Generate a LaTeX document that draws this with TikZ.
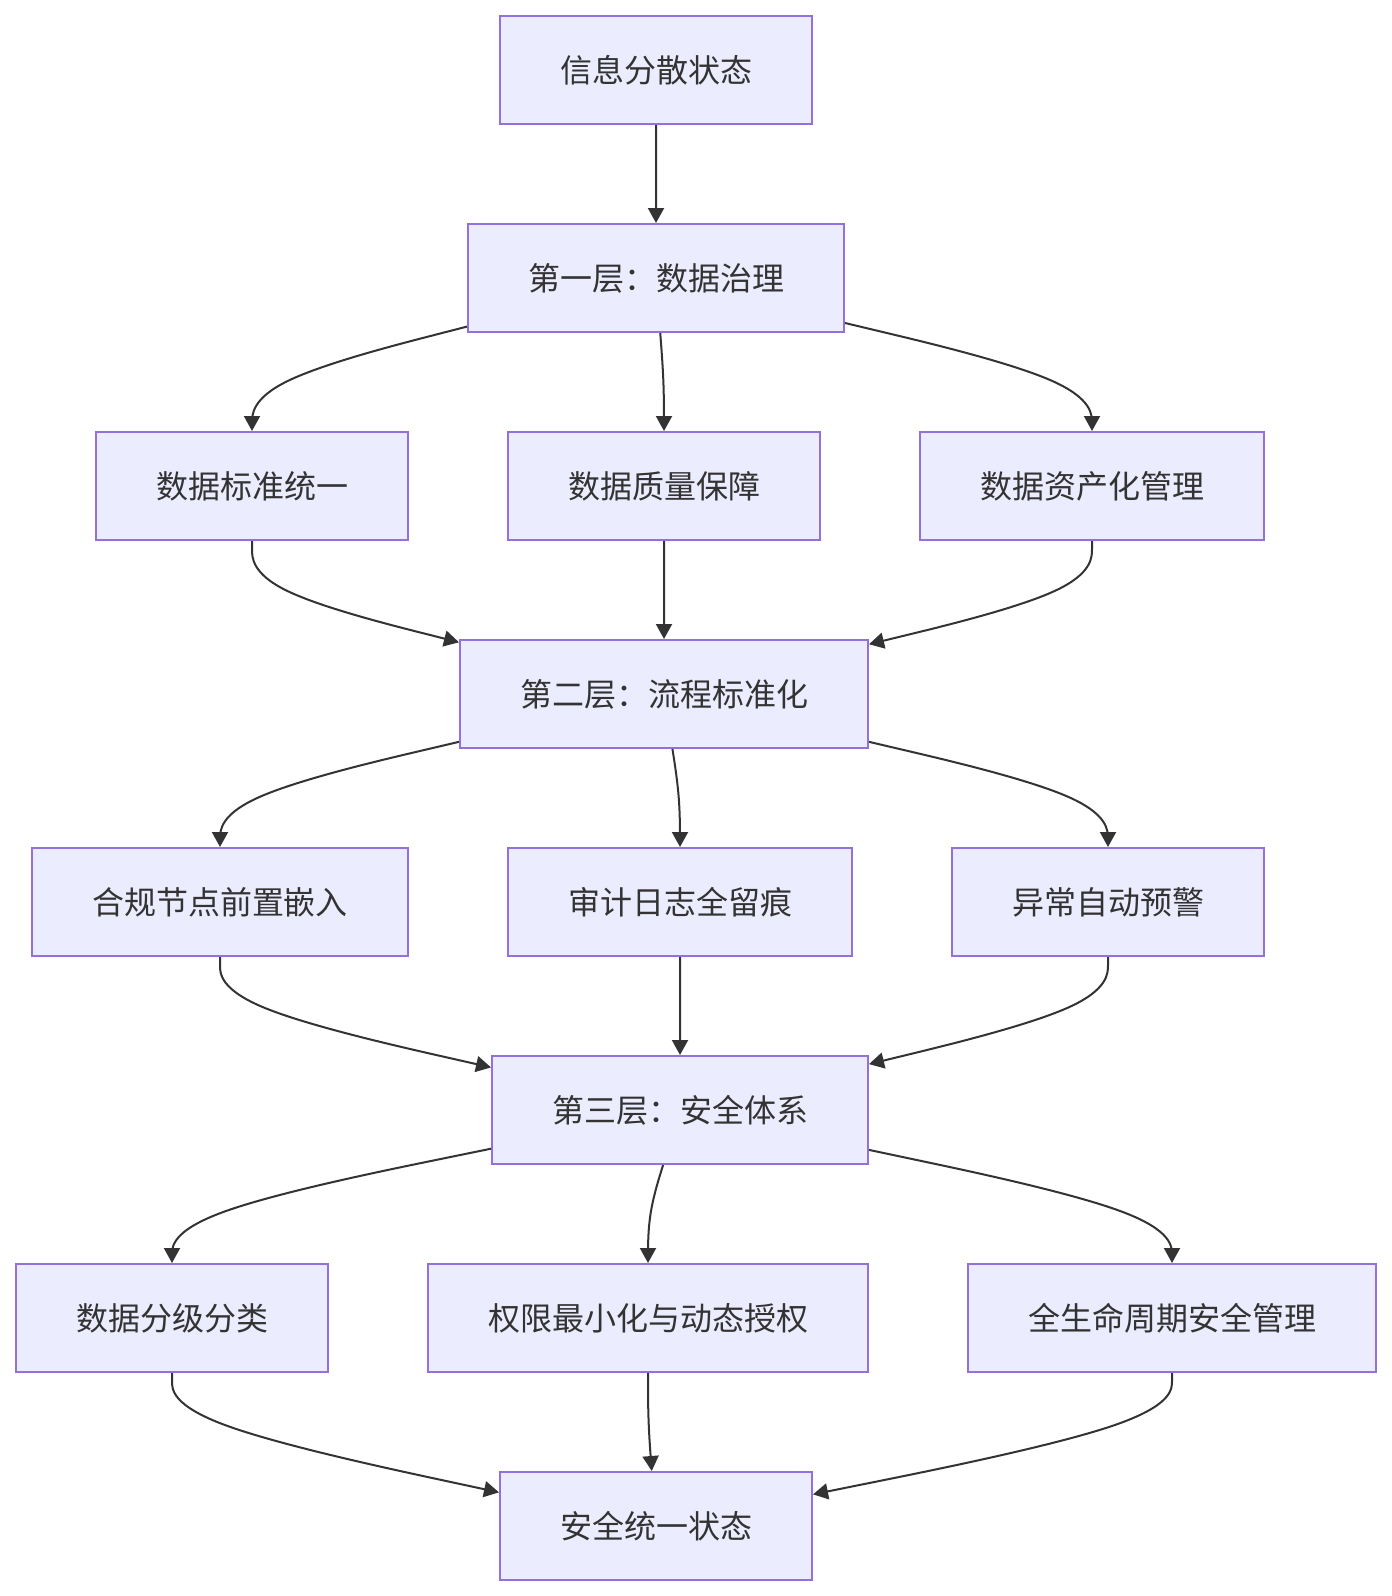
\documentclass[tikz,border=0pt]{standalone}
\usepackage{fontspec}
\setmainfont{Noto Sans CJK SC}
\usetikzlibrary{arrows.meta,calc}
\definecolor{nodefill}{HTML}{ECECFF}
\definecolor{nodeline}{HTML}{9370DB}
\definecolor{ink}{HTML}{333333}
\tikzset{
  box/.style={rectangle, draw=nodeline, fill=nodefill, line width=2pt,
    minimum height=108pt, inner sep=0pt, text=ink,
    font=\fontsize{32}{38}\selectfont},
  link/.style={draw=ink, line width=2pt, -{Triangle[length=15pt,width=16pt]}}
}
\newcommand{\basisedge}[3]{%
  \path (#1) -- (#2) coordinate[pos=0] (bp0);
  \path (#2) -- (#3) coordinate[pos=1] (bp2);
  \draw[link] (bp0) -- ($(bp0)!0.1666667!(#2)$)
    .. controls ($(bp0)!0.3333333!(#2)$) and ($(bp0)!0.6666667!(#2)$) ..
    ($0.1666667*(bp0)+0.6666667*(#2)+0.1666667*(bp2)$)
    .. controls ($(#2)!0.3333333!(bp2)$) and ($(#2)!0.6666667!(bp2)$) ..
    ($(#2)!0.8333333!(bp2)$) -- (bp2);
}
\begin{document}
\begin{tikzpicture}[x=1pt,y=-1pt]
\useasboundingbox (0,0) rectangle (1392,1596);
% nodes
\node[box, minimum width=312pt] (n1) at (656,70) {信息分散状态};
\node[box, minimum width=376pt] (n2) at (656,278) {第一层：数据治理};
\node[box, minimum width=312pt] (n3) at (252,486) {数据标准统一};
\node[box, minimum width=312pt] (n4) at (664,486) {数据质量保障};
\node[box, minimum width=344pt] (n5) at (1092,486) {数据资产化管理};
\node[box, minimum width=408pt] (n6) at (664,694) {第二层：流程标准化};
\node[box, minimum width=376pt] (n7) at (220,902) {合规节点前置嵌入};
\node[box, minimum width=344pt] (n8) at (680,902) {审计日志全留痕};
\node[box, minimum width=312pt] (n9) at (1108,902) {异常自动预警};
\node[box, minimum width=376pt] (n10) at (680,1110) {第三层：安全体系};
\node[box, minimum width=312pt] (n11) at (172,1318) {数据分级分类};
\node[box, minimum width=440pt] (n12) at (648,1318) {权限最小化与动态授权};
\node[box, minimum width=408pt] (n13) at (1172,1318) {全生命周期安全管理};
\node[box, minimum width=312pt] (n14) at (656,1526) {安全统一状态};
% bend points
\coordinate (m12) at (656,174);
\coordinate (m23) at (252,382);
\coordinate (m24) at (664,382);
\coordinate (m25) at (1092,382);
\coordinate (m36) at (252,590);
\coordinate (m46) at (664,590);
\coordinate (m56) at (1092,590);
\coordinate (m67) at (220,798);
\coordinate (m68) at (680,798);
\coordinate (m69) at (1108,798);
\coordinate (m710) at (220,1006);
\coordinate (m810) at (680,1006);
\coordinate (m910) at (1108,1006);
\coordinate (m1011) at (172,1214);
\coordinate (m1012) at (648,1214);
\coordinate (m1013) at (1172,1214);
\coordinate (m1114) at (172,1422);
\coordinate (m1214) at (648,1422);
\coordinate (m1314) at (1172,1422);
% edges
\basisedge{n1}{m12}{n2}
\basisedge{n2}{m23}{n3}
\basisedge{n2}{m24}{n4}
\basisedge{n2}{m25}{n5}
\basisedge{n3}{m36}{n6}
\basisedge{n4}{m46}{n6}
\basisedge{n5}{m56}{n6}
\basisedge{n6}{m67}{n7}
\basisedge{n6}{m68}{n8}
\basisedge{n6}{m69}{n9}
\basisedge{n7}{m710}{n10}
\basisedge{n8}{m810}{n10}
\basisedge{n9}{m910}{n10}
\basisedge{n10}{m1011}{n11}
\basisedge{n10}{m1012}{n12}
\basisedge{n10}{m1013}{n13}
\basisedge{n11}{m1114}{n14}
\basisedge{n12}{m1214}{n14}
\basisedge{n13}{m1314}{n14}
\end{tikzpicture}
\end{document}
